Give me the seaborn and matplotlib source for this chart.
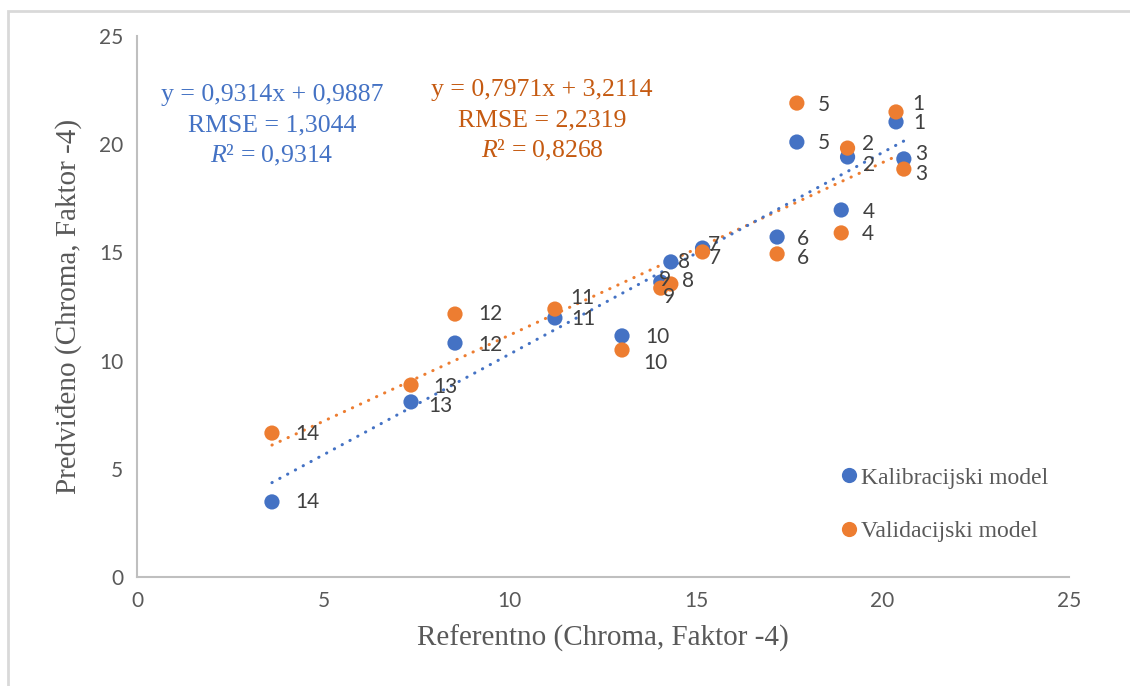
import matplotlib
matplotlib.use("Agg")
import matplotlib.pyplot as plt
import matplotlib.patches as mpatches
import numpy as np
import pandas as pd
import seaborn as sns

# Referentno (Chroma, Faktor -4) values, samples 1..14
referentno = [20.36, 19.06, 20.57, 18.89, 17.70, 17.17, 15.17, 14.32, 14.05, 13.01, 11.21, 8.53, 7.35, 3.62]
# Predicted values
kalibracijski = [21.03, 19.41, 19.32, 16.96, 20.10, 15.71, 15.20, 14.56, 13.63, 11.14, 11.97, 10.81, 8.09, 3.47]
validacijski = [21.49, 19.82, 18.85, 15.90, 21.90, 14.93, 15.02, 13.54, 13.35, 10.49, 12.38, 12.15, 8.87, 6.65]
sample_ids = list(range(1, 15))

# trendline coefficients (slope, intercept) as shown in the chart
kal_fit = (0.9314, 0.9887)
val_fit = (0.7971, 3.2114)

kal_text = ["y = 0,9314x + 0,9887", "RMSE = 1,3044", "R² = 0,9314"]
val_text = ["y = 0,7971x + 3,2114", "RMSE = 2,2319", "R² = 0,8268"]

BLUE = "#4472C4"
ORANGE = "#ED7D31"
ORANGE_TXT = "#C55A11"
GRAY = "#595959"

# label offsets in pixels (dx right, dy down) for each point label
kal_offsets = [(17, 1), (15, 8), (11, -5), (22, 2), (21, 1), (20, 2), (5, -3),
               (7, 0), (-2, -2), (23, 1), (16, 1), (23, 2), (17, 4), (23, 0)]
val_offsets = [(16, -8), (14, -4), (11, 5), (21, 1), (21, 2), (20, 4), (6, 6),
               (11, -3), (2, 9), (21, 13), (15, -11), (23, 0), (22, 2), (23, 1)]

df = pd.DataFrame({
    "x": referentno * 2,
    "y": kalibracijski + validacijski,
    "model": ["Kalibracijski model"] * 14 + ["Validacijski model"] * 14,
})

sns.set_style("white")
plt.rcParams["mathtext.fontset"] = "custom"
plt.rcParams["mathtext.rm"] = "Liberation Serif"
plt.rcParams["mathtext.it"] = "Liberation Serif:italic"

fig = plt.figure(figsize=(11.3, 6.86), dpi=100)
ax = fig.add_axes([137 / 1130, 1 - 577 / 686, (1069 - 137) / 1130, (577 - 36) / 686])

# chart border (only left/top visible in the reference crop)
fig.patches.append(mpatches.Rectangle((8 / 1130, -0.05), 1.2, 1 - 11 / 686 + 0.05,
                                      transform=fig.transFigure, fill=False,
                                      edgecolor="#D9D9D9", linewidth=2))

# trendlines
xs = np.array([min(referentno), max(referentno)])
for (m, b), c in [(val_fit, ORANGE), (kal_fit, BLUE)]:
    ax.plot(xs, m * xs + b, color=c, linewidth=2.2, linestyle=(0, (0.1, 2.8)),
            dash_capstyle="round", zorder=2)

sns.scatterplot(data=df, x="x", y="y", hue="model",
                palette={"Kalibracijski model": BLUE, "Validacijski model": ORANGE},
                s=120, edgecolor="none", linewidth=0, ax=ax, zorder=3)

# point labels
for ys_, offs in [(kalibracijski, kal_offsets), (validacijski, val_offsets)]:
    for i, (xv, yv) in enumerate(zip(referentno, ys_)):
        dx, dy = offs[i]
        ax.annotate(str(sample_ids[i]), (xv, yv), xytext=(dx, -dy),
                    textcoords="offset pixels", ha="left", va="center",
                    fontsize=15, color="#404040", family="Lato", zorder=4)

# equation texts
for lines, cx, ytop, color in [(kal_text, 272, 95, BLUE), (val_text, 542, 90, ORANGE_TXT)]:
    for k, t in enumerate(lines):
        if t.startswith("R²"):
            t = r"$\mathit{R}$" + t[1:]
        fig.text(cx / 1130, 1 - (ytop + k * 30) / 686, t, fontsize=18.5, color=color,
                 family="Liberation Serif", ha="center", va="center")

ax.set_xlim(0, 25)
ax.set_ylim(0, 25)
ax.set_xticks(range(0, 26, 5))
ax.set_yticks(range(0, 26, 5))
ax.tick_params(length=0, labelsize=15, labelcolor=GRAY, pad=10)
for lab in ax.get_xticklabels() + ax.get_yticklabels():
    lab.set_family("Lato")
for s in ["top", "right"]:
    ax.spines[s].set_visible(False)
for s in ["left", "bottom"]:
    ax.spines[s].set_color("#BFBFBF")
    ax.spines[s].set_linewidth(1.5)

ax.set_xlabel("Referentno (Chroma, Faktor -4)", fontsize=21, color=GRAY,
              family="Liberation Serif", labelpad=10)
ax.set_ylabel("Predviđeno (Chroma, Faktor -4)", fontsize=21, color=GRAY,
              family="Liberation Serif", labelpad=12)

leg = ax.legend(loc="center left", bbox_to_anchor=(0.73, 0.134), frameon=False,
                prop={"family": "Liberation Serif", "size": 17},
                labelspacing=1.35, handletextpad=0.05, handlelength=0.9, markerscale=1.0)
for t in leg.get_texts():
    t.set_color(GRAY)

fig.savefig("out.png", dpi=100, facecolor="white")
